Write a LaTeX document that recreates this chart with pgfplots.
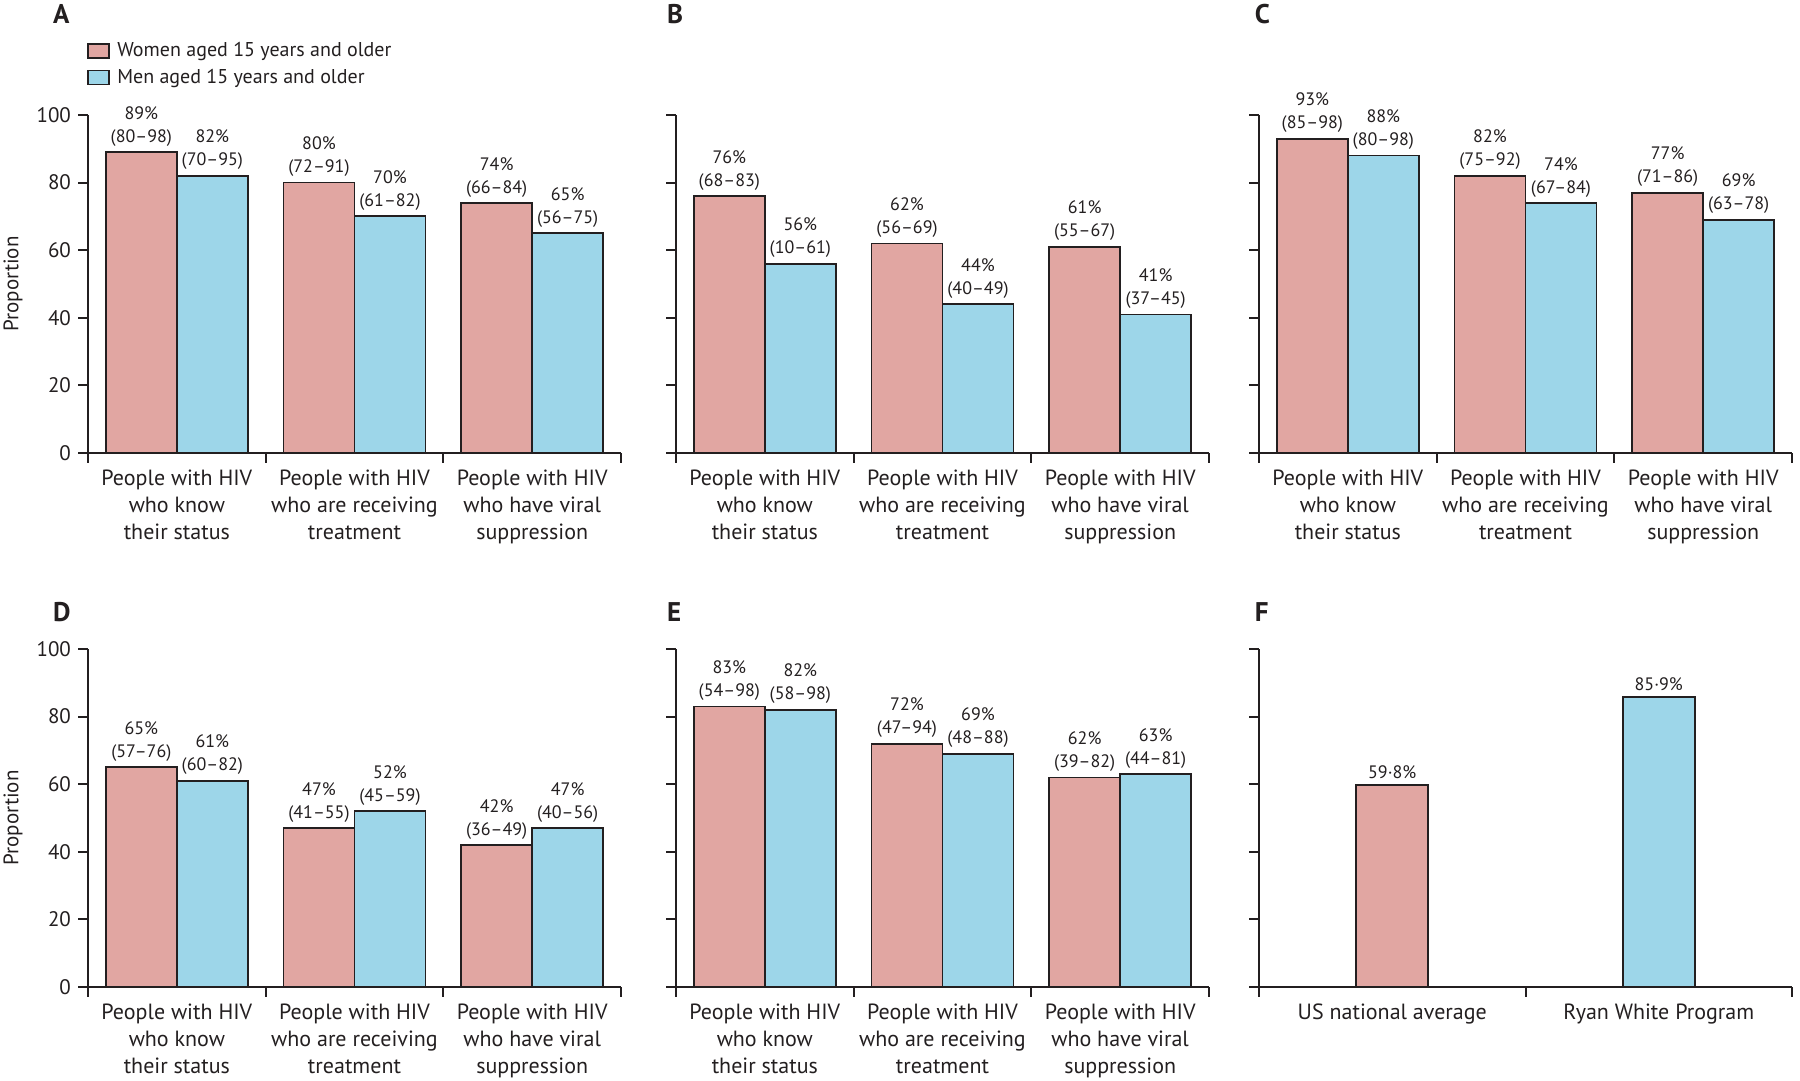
\documentclass[border=0pt]{standalone}
\usepackage{fontspec}
\setmainfont{PT Sans}
\usepackage{pgfplots}
\pgfplotsset{compat=1.18}
\definecolor{ink}{RGB}{35,31,32}
\definecolor{pinkbar}{RGB}{225,166,162}
\definecolor{bluebar}{RGB}{157,214,233}
\tikzset{letter/.style={anchor=base west, font=\bfseries\fontsize{13.5}{13.5}\selectfont, text=ink}}
\pgfplotsset{
  panel/.style={
    scale only axis, width=266.5pt, height=169pt,
    ymin=0, ymax=100, ytick={0,20,...,100},
    axis x line*=bottom, axis y line*=left,
    axis line style={line width=1pt, draw=ink},
    tick style={line width=1pt, draw=ink},
    tick align=outside, major tick length=5pt, minor tick length=5pt,
    major x tick style={draw=none},
    /pgf/number format/assume math mode=true,
    yticklabel style={font=\fontsize{10.5}{12}\selectfont, text=ink},
    xticklabel style={align=center, font=\fontsize{11}{13.5}\selectfont, text=ink},
    clip=false,
    nodes near coords, point meta=explicit symbolic,
    nodes near coords style={align=center, font=\fontsize{9}{11.5}\selectfont, anchor=south, text=ink, inner sep=2.5pt},
  },
  three/.style={
    panel, ybar=0pt, bar width=35.5pt,
    xmin=0, xmax=3, xtick={0.5,1.5,2.5}, minor xtick={0,1,2,3},
    xticklabels={{People with HIV\\who know\\their status},{People with HIV\\who are receiving\\treatment},{People with HIV\\who have viral\\suppression}},
  },
  women/.style={fill=pinkbar, draw=ink, line width=0.9pt},
  men/.style={fill=bluebar, draw=ink, line width=0.9pt},
  noylab/.style={yticklabels={,,,,,}},
  withylab/.style={ylabel={Proportion}, ylabel style={at={(axis description cs:-0.1407,0.5)}, anchor=center, font=\fontsize{10.5}{12}\selectfont, text=ink}},
}
\begin{document}
\begin{tikzpicture}
\path[use as bounding box] (0,0) rectangle (900pt,540.5pt);
% A
\begin{axis}[three, withylab, at={(44pt,314pt)}, anchor=south west,
  legend style={at={(axis description cs:-0.013,1.239)}, anchor=north west, draw=none, fill=none, font=\fontsize{10}{12}\selectfont, text=ink, row sep=0.5pt, cells={anchor=west}},
  legend image code/.code={\draw[#1] (0pt,-3.5pt) rectangle (10.5pt,3.5pt);},
  legend cell align=left]
\addplot[women] coordinates {(0.5,89) [{89\%\\(80--98)}] (1.5,80) [{80\%\\(72--91)}] (2.5,74) [{74\%\\(66--84)}]};
\addplot[men] coordinates {(0.5,82) [{82\%\\(70--95)}] (1.5,70) [{70\%\\(61--82)}] (2.5,65) [{65\%\\(56--75)}]};
\legend{\hspace{1.5pt}Women aged 15 years and older, \hspace{1.5pt}Men aged 15 years and older}
\node[letter] at (axis description cs:-0.0788,1.272) {A};
\end{axis}
% B
\begin{axis}[three, noylab, at={(338pt,314pt)}, anchor=south west]
\addplot[women] coordinates {(0.5,76) [{76\%\\(68--83)}] (1.5,62) [{62\%\\(56--69)}] (2.5,61) [{61\%\\(55--67)}]};
\addplot[men] coordinates {(0.5,56) [{56\%\\(10--61)}] (1.5,44) [{44\%\\(40--49)}] (2.5,41) [{41\%\\(37--45)}]};
\node[letter] at (axis description cs:-0.030,1.272) {B};
\end{axis}
% C
\begin{axis}[three, noylab, at={(629.5pt,314pt)}, anchor=south west]
\addplot[women] coordinates {(0.5,93) [{93\%\\(85--98)}] (1.5,82) [{82\%\\(75--92)}] (2.5,77) [{77\%\\(71--86)}]};
\addplot[men] coordinates {(0.5,88) [{88\%\\(80--98)}] (1.5,74) [{74\%\\(67--84)}] (2.5,69) [{69\%\\(63--78)}]};
\node[letter] at (axis description cs:-0.021,1.272) {C};
\end{axis}
% D
\begin{axis}[three, withylab, at={(44pt,47pt)}, anchor=south west]
\addplot[women] coordinates {(0.5,65) [{65\%\\(57--76)}] (1.5,47) [{47\%\\(41--55)}] (2.5,42) [{42\%\\(36--49)}]};
\addplot[men] coordinates {(0.5,61) [{61\%\\(60--82)}] (1.5,52) [{52\%\\(45--59)}] (2.5,47) [{47\%\\(40--56)}]};
\node[letter] at (axis description cs:-0.0788,1.08) {D};
\end{axis}
% E
\begin{axis}[three, noylab, at={(338pt,47pt)}, anchor=south west]
\addplot[women] coordinates {(0.5,83) [{83\%\\(54--98)}] (1.5,72) [{72\%\\(47--94)}] (2.5,62) [{62\%\\(39--82)}]};
\addplot[men] coordinates {(0.5,82) [{82\%\\(58--98)}] (1.5,69) [{69\%\\(48--88)}] (2.5,63) [{63\%\\(44--81)}]};
\node[letter] at (axis description cs:-0.030,1.08) {E};
\end{axis}
% F
\begin{axis}[panel, noylab, at={(629.5pt,47pt)}, anchor=south west,
  ybar=0pt, bar width=36pt, bar shift=0pt,
  xmin=0, xmax=2, xtick={0.5,1.5}, minor xtick={0,1,2},
  xticklabels={US national average, Ryan White Program}]
\addplot[women] coordinates {(0.5,59.8) [{59·8\%}]};
\addplot[men] coordinates {(1.5,85.9) [{85·9\%}]};
\node[letter] at (axis description cs:-0.021,1.08) {F};
\end{axis}
\end{tikzpicture}
\end{document}
